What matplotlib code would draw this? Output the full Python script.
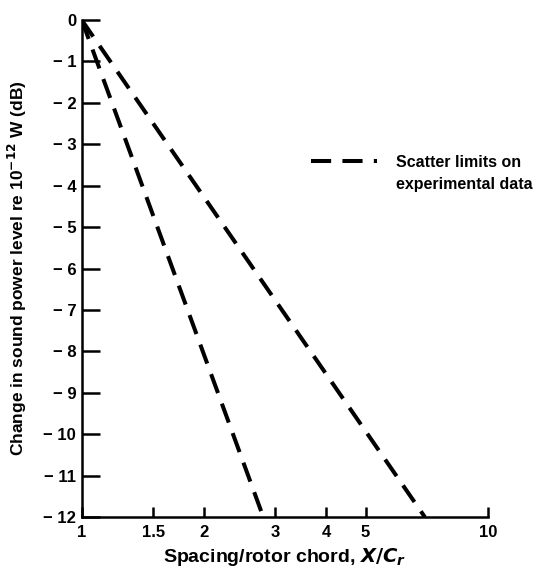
import matplotlib.pyplot as plt
from matplotlib.ticker import FixedLocator, FuncFormatter, NullLocator

# scatter limits (x on log scale)
x_steep = [1.0, 2.8]
y_steep = [0, -12]
x_shallow = [1.0, 7.0]
y_shallow = [0, -12]

xticks = [1, 1.5, 2, 3, 4, 5, 10]
xticklabels = ['1', '1.5', '2', '3', '4', '5', '10']
yticks = list(range(0, -13, -1))

plt.rcParams['font.family'] = ['Liberation Sans', 'DejaVu Sans']
plt.rcParams['font.weight'] = 'bold'
plt.rcParams['axes.labelweight'] = 'bold'

fig = plt.figure(figsize=(5.45, 5.72), dpi=100)
ax = fig.add_axes([0.150, 0.096, 0.745, 0.869])

dash = (5.0, 2.8)
ax.plot(x_steep, y_steep, color='black', lw=2.9, dashes=dash)
ax.plot(x_shallow, y_shallow, color='black', lw=2.9, dashes=dash, label='Scatter limits on')

ax.set_xscale('log')
ax.set_xlim(1, 10)
ax.set_ylim(-12, 0)

ax.xaxis.set_major_locator(FixedLocator(xticks))
ax.xaxis.set_minor_locator(NullLocator())
ax.set_xticklabels(xticklabels)
ax.set_yticks(yticks)
ax.yaxis.set_major_formatter(FuncFormatter(lambda v, p: '0' if v == 0 else '\u2212 %d' % abs(v)))

for s in ['top', 'right']:
    ax.spines[s].set_visible(False)
for s in ['left', 'bottom']:
    ax.spines[s].set_linewidth(1.8)

ax.tick_params(axis='y', direction='in', length=13, width=1.8, labelsize=12, pad=4)
ax.tick_params(axis='x', direction='in', length=7, width=1.8, labelsize=12, pad=6)

ax.set_xlabel('Spacing/rotor chord, $\\mathbf{\\it{X/C_r}}$', fontsize=14, labelpad=4)
ax.set_ylabel('Change in sound power level re 10$^{\\mathbf{-12}}$ W (dB)', fontsize=12.5, labelpad=10)

leg = ax.legend(loc='upper left', bbox_to_anchor=(0.55, 0.742), frameon=False,
                handlelength=4.1, handletextpad=1.2, fontsize=11.5, borderaxespad=0)

# second line of the legend text, placed right under the first
fig.canvas.draw()
t = leg.get_texts()[0]
bb = t.get_window_extent().transformed(fig.transFigure.inverted())
fig.text(bb.x0, bb.y0 - 0.012, 'experimental data', fontsize=11.5, fontweight='bold',
         ha='left', va='top')

fig.savefig('out.png', dpi=100)
